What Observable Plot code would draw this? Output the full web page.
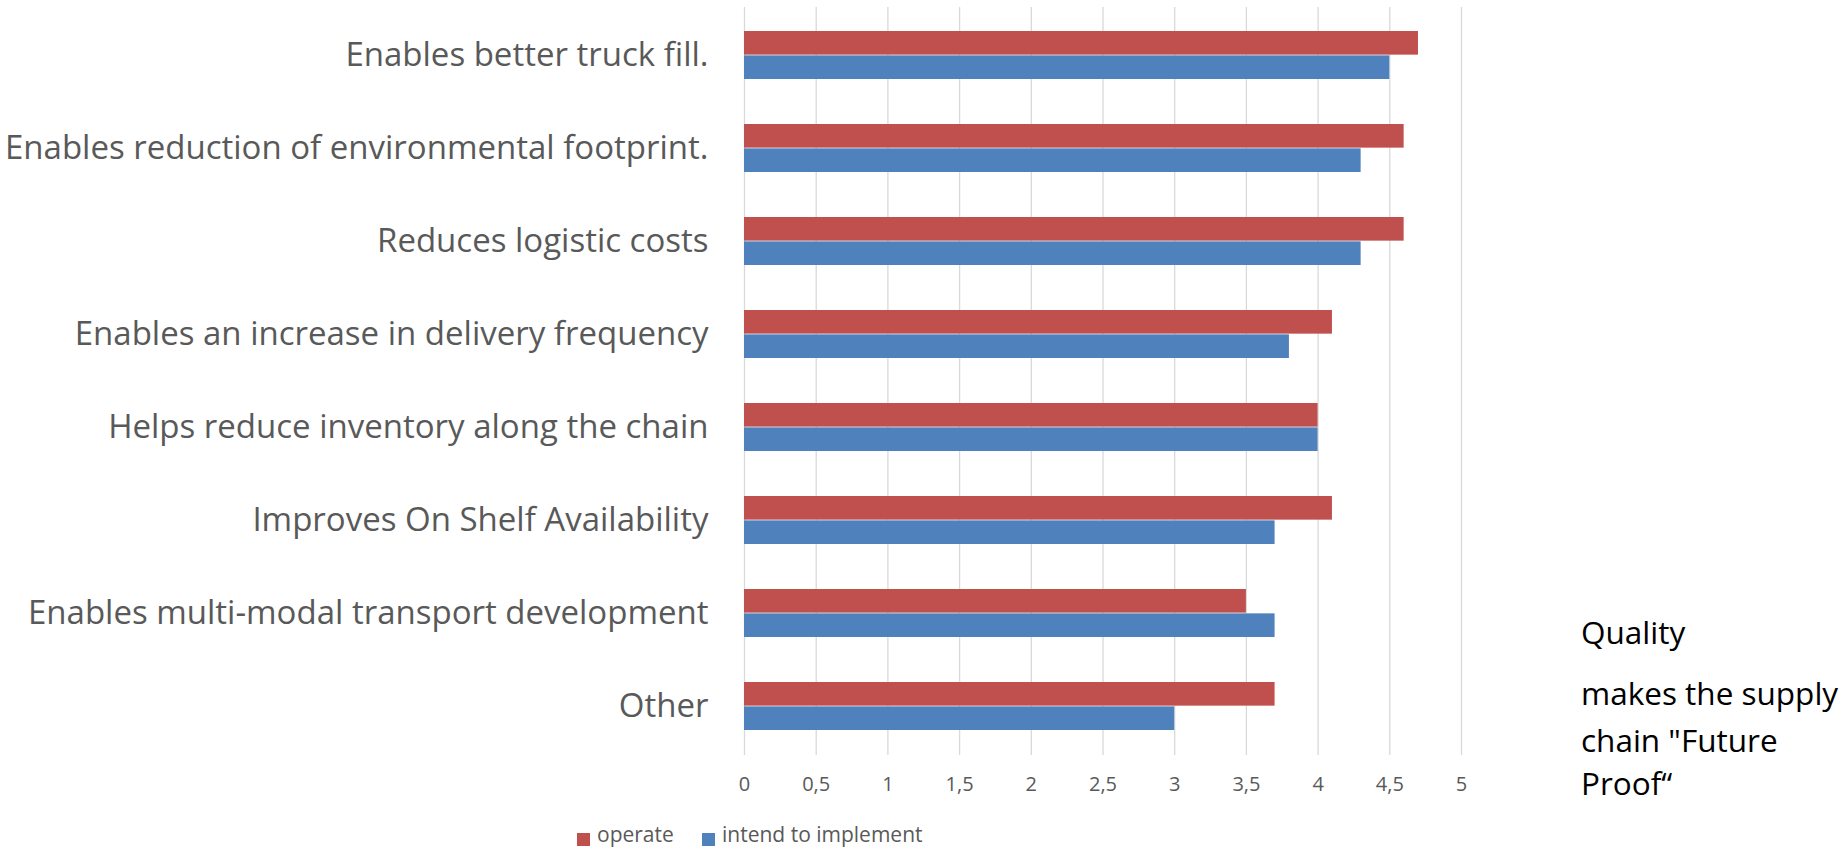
<!DOCTYPE html>
<html>
<head>
<meta charset="utf-8">
<script src="https://cdn.jsdelivr.net/npm/d3@7"></script>
<script src="https://cdn.jsdelivr.net/npm/@observablehq/plot@0.6"></script>
<style>
  body { margin: 0; background: #fff; }
  #wrap { position: relative; width: 1847px; height: 850px; overflow: hidden; font-family: "Open Sans", Lato, sans-serif; }
  #chart { position: absolute; left: 0; top: 0; }
  .legend { position: absolute; top: 824px; font-size: 21px; line-height: 1; color: #595959; white-space: nowrap; }
  .swatch { position: absolute; top: 833px; width: 13px; height: 13px; }
  .note { position: absolute; left: 1581px; font-size: 31.5px; line-height: 1; color: #000; white-space: nowrap; }
</style>
</head>
<body>
<div id="wrap">
  <div id="chart"></div>
</div>
<script>
// Survey answers: benefits of the practice, rated by firms that operate it
// and by firms that intend to implement it.
const categories = [
  "Enables better truck fill.",
  "Enables reduction of environmental footprint.",
  "Reduces logistic costs",
  "Enables an increase in delivery frequency",
  "Helps reduce inventory along the chain",
  "Improves On Shelf Availability",
  "Enables multi-modal transport development",
  "Other"
];
const operate = [4.7, 4.6, 4.6, 4.1, 4.0, 4.1, 3.5, 3.7];
const intend  = [4.5, 4.3, 4.3, 3.8, 4.0, 3.7, 3.7, 3.0];
const seriesNames = ["operate", "intend to implement"];
const seriesColors = ["#C0504D", "#4F81BD"];
const xTicks = [0, 0.5, 1, 1.5, 2, 2.5, 3, 3.5, 4, 4.5, 5];
const noteLines = ["Quality", "makes the supply", "chain \"Future", "Proof\u201C"];

const operateRows = categories.map((c, i) => ({category: c, series: seriesNames[0], value: operate[i]}));
const intendRows  = categories.map((c, i) => ({category: c, series: seriesNames[1], value: intend[i]}));

// each category band holds two stacked half-height bars
const halfBar = 24.35;

const chart = Plot.plot({
  width: 1847,
  height: 815,
  marginLeft: 744,
  marginRight: 386,
  marginTop: 7,
  marginBottom: 60,
  style: {fontFamily: "'Open Sans', Lato, sans-serif", color: "#595959", background: "#fff"},
  x: {domain: [0, 5], label: null},
  y: {domain: categories, paddingInner: 0.479, paddingOuter: 0.2395, label: null},
  marks: [
    Plot.ruleX(xTicks, {stroke: "#d9d9d9", strokeWidth: 1.3}),
    Plot.barX(operateRows, {x: "value", y: "category", fill: seriesColors[0], insetBottom: halfBar}),
    Plot.barX(intendRows, {x: "value", y: "category", fill: seriesColors[1], insetTop: halfBar}),
    Plot.axisX({ticks: xTicks, tickSize: 0, tickPadding: 21, fontSize: 20, fill: "#595959",
                tickFormat: d => String(d).replace(".", ","), label: null}),
    Plot.axisY({tickSize: 0, tickPadding: 36, fontSize: 33, fill: "#595959", label: null})
  ]
});
const wrap = document.getElementById("wrap");
document.getElementById("chart").appendChild(chart);

// legend below the axis
const legendPos = [{sw: 577, tx: 597}, {sw: 702, tx: 722}];
seriesNames.forEach((name, i) => {
  const sw = document.createElement("div");
  sw.className = "swatch";
  sw.style.left = legendPos[i].sw + "px";
  sw.style.background = seriesColors[i];
  wrap.appendChild(sw);
  const t = document.createElement("div");
  t.className = "legend";
  t.style.left = legendPos[i].tx + "px";
  t.textContent = name;
  wrap.appendChild(t);
});

// side note
const noteTops = [616, 677, 724, 767];
noteLines.forEach((line, i) => {
  const d = document.createElement("div");
  d.className = "note";
  d.style.top = noteTops[i] + "px";
  d.textContent = line;
  wrap.appendChild(d);
});
</script>
</body>
</html>
